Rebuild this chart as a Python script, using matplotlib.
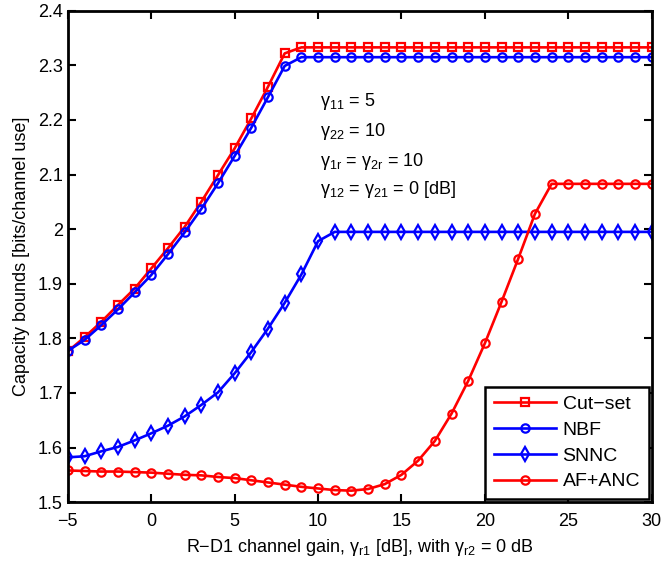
import matplotlib
matplotlib.use("agg")
import matplotlib.pyplot as plt
import numpy as np
from matplotlib.ticker import FuncFormatter

plt.rcParams['font.family'] = ['Liberation Sans', 'DejaVu Sans']
plt.rcParams['mathtext.fontset'] = 'custom'
plt.rcParams['mathtext.rm'] = 'Liberation Sans'

# R-D1 channel gain [dB]
gain_db = list(range(-5, 31))

cut_set = [1.776, 1.802, 1.830, 1.861, 1.891, 1.928, 1.965, 2.004, 2.050, 2.099,
           2.148, 2.203, 2.261, 2.322] + [2.333] * 22
nbf = [1.777, 1.797, 1.824, 1.853, 1.884, 1.916, 1.954, 1.994, 2.037, 2.084,
       2.134, 2.186, 2.242, 2.299] + [2.315] * 22
snnc = [1.582, 1.584, 1.593, 1.601, 1.613, 1.626, 1.640, 1.657, 1.678, 1.701,
        1.736, 1.775, 1.818, 1.865, 1.917, 1.978] + [1.995] * 20
af_anc = [1.558, 1.557, 1.556, 1.556, 1.555, 1.554, 1.552, 1.550, 1.549, 1.546,
          1.544, 1.540, 1.536, 1.532, 1.528, 1.525, 1.522, 1.521, 1.524, 1.533,
          1.550, 1.576, 1.612, 1.662, 1.722, 1.791, 1.867, 1.946, 2.028] + [2.083] * 7

fig = plt.figure(figsize=(6.65, 5.68), dpi=100)
ax = fig.add_axes([0.102, 0.116, 0.878, 0.865])

style = dict(linewidth=1.9, markerfacecolor='none', markeredgewidth=1.6)
ax.plot(gain_db, cut_set, color='red', marker='s', markersize=5.2, label='Cut\u2212set', **style)
ax.plot(gain_db, nbf, color='blue', marker='o', markersize=6, label='NBF', **style)
ax.plot(gain_db, snnc, color='blue', marker='d', markersize=7.5, label='SNNC', **style)
ax.plot(gain_db, af_anc, color='red', marker='o', markersize=6, label='AF+ANC', **style)

ax.set_xlim(-5, 30)
ax.set_ylim(1.5, 2.4)
ax.set_xticks(np.arange(-5, 31, 5))
ax.set_yticks(np.arange(1.5, 2.41, 0.1))
ax.yaxis.set_major_formatter(FuncFormatter(lambda v, p: '%g' % round(v, 2)))
ax.tick_params(direction='in', top=True, right=True, labelsize=13, width=1.5, length=6)
ax.tick_params(axis='x', pad=8)
for s in ax.spines.values():
    s.set_linewidth(2)

ax.set_xlabel('R\u2212D1 channel gain, \u03b3$_{\\mathregular{r1}}$ [dB], with \u03b3$_{\\mathregular{r2}}$ = 0 dB',
              fontsize=13, labelpad=5)
ax.set_ylabel('Capacity bounds [bits/channel use]', fontsize=13, labelpad=6)

notes = ['\u03b3$_{\\mathregular{11}}$ = 5',
         '\u03b3$_{\\mathregular{22}}$ = 10',
         '\u03b3$_{\\mathregular{1r}}$ = \u03b3$_{\\mathregular{2r}}$ = 10',
         '\u03b3$_{\\mathregular{12}}$ = \u03b3$_{\\mathregular{21}}$ = 0 [dB]']
note_y = [2.234, 2.179, 2.124, 2.072]
for t, yy in zip(notes, note_y):
    ax.text(10.1, yy, t, fontsize=13, va='center', ha='left')

leg = ax.legend(loc='lower right', fontsize=14, fancybox=False, framealpha=1,
                edgecolor='black', borderaxespad=0.15, handlelength=3.2,
                labelspacing=0.42, borderpad=0.45, handletextpad=0.35)
leg.get_frame().set_linewidth(1.8)

fig.savefig('out.png', dpi=100)
